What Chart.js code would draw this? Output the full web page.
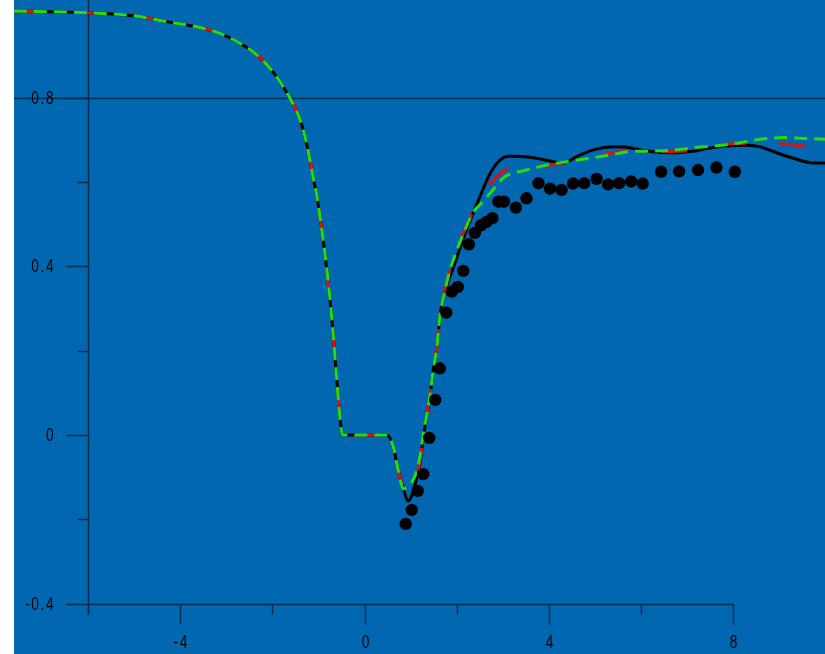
<!DOCTYPE html>
<html>
<head>
<meta charset="utf-8">
<script src="https://cdn.jsdelivr.net/npm/chart.js@4.4.1/dist/chart.umd.min.js"></script>
<style>
    html, body { margin: 0; padding: 0; background: #ffffff; }
    #wrap { position: absolute; left: 14px; top: 0; width: 811px; height: 654px; }
</style>
</head>
<body>
<div id="wrap"><canvas id="profileChart" width="811" height="654"></canvas></div>
<script>
// Part of the curve where all three computations coincide
const sharedX = [-7.61, -6.02, -5.03, -4.30, -3.57, -3.14, -2.71, -2.34, -2.05, -1.84, -1.62, -1.40, -1.26, -1.12, -1.03, -0.93, -0.82, -0.73, -0.64, -0.58, -0.54, -0.48, 0.48, 0.62, 0.73, 0.84];
const sharedY = [1.005, 1.001, 0.994, 0.980, 0.966, 0.952, 0.929, 0.901, 0.869, 0.838, 0.798, 0.747, 0.691, 0.612, 0.561, 0.486, 0.391, 0.296, 0.178, 0.095, 0.043, 0.0, 0.0, -0.028, -0.086, -0.128];

// Black solid line, after the split
const blackX = [0.94, 1.09, 1.20, 1.27, 1.35, 1.42, 1.48, 1.57, 1.63, 1.74, 1.92, 2.21, 2.50, 2.72, 2.94, 3.12, 3.37, 3.73, 4.09, 4.31, 4.60, 4.96, 5.39, 5.68, 5.97, 6.19, 6.69, 7.06, 7.49, 7.85, 8.29, 8.58, 8.86, 9.30, 9.73, 9.99];
const blackY = [-0.157, -0.119, -0.065, -0.007, 0.047, 0.095, 0.149, 0.213, 0.280, 0.339, 0.396, 0.486, 0.565, 0.620, 0.652, 0.661, 0.660, 0.656, 0.648, 0.645, 0.660, 0.676, 0.683, 0.682, 0.676, 0.672, 0.669, 0.672, 0.680, 0.685, 0.687, 0.683, 0.672, 0.656, 0.645, 0.645];

// Red dashed line, after the split
const redX = [0.95, 1.09, 1.20, 1.27, 1.35, 1.42, 1.48, 1.57, 1.63, 1.74, 1.85, 2.00, 2.14, 2.28, 2.50, 2.72, 2.94, 3.22, 3.59, 4.02, 4.67, 5.68, 6.04, 7.13, 7.35, 7.67, 8.14, 8.50, 9.12, 9.88, 9.99];
const redY = [-0.140, -0.112, -0.060, -0.005, 0.049, 0.097, 0.149, 0.213, 0.280, 0.342, 0.391, 0.438, 0.479, 0.514, 0.557, 0.595, 0.620, 0.635, 0.636, 0.640, 0.652, 0.672, 0.672, 0.674, 0.677, 0.687, 0.691, 0.693, 0.690, 0.680, 0.679];

// Green dashed line, after the split
const greenX = [0.95, 1.09, 1.20, 1.27, 1.35, 1.42, 1.48, 1.57, 1.63, 1.74, 1.85, 2.00, 2.14, 2.36, 2.54, 2.72, 3.04, 3.51, 3.95, 4.38, 4.89, 5.32, 5.76, 6.26, 6.77, 7.20, 7.67, 8.14, 8.58, 9.08, 9.51, 9.99];
const greenY = [-0.121, -0.097, -0.050, 0.000, 0.049, 0.097, 0.149, 0.213, 0.280, 0.342, 0.391, 0.438, 0.477, 0.529, 0.550, 0.573, 0.612, 0.628, 0.640, 0.648, 0.656, 0.664, 0.672, 0.673, 0.676, 0.682, 0.686, 0.693, 0.701, 0.705, 0.703, 0.701];

// Experimental points
const expX = [0.89, 1.02, 1.15, 1.27, 1.40, 1.53, 1.63, 1.77, 1.89, 2.02, 2.14, 2.26, 2.39, 2.52, 2.64, 2.77, 2.90, 3.02, 3.28, 3.51, 3.77, 4.02, 4.27, 4.52, 4.76, 5.03, 5.28, 5.52, 5.78, 6.03, 6.43, 6.82, 7.23, 7.63, 8.03];
const expY = [-0.211, -0.178, -0.133, -0.093, -0.007, 0.083, 0.158, 0.290, 0.340, 0.351, 0.389, 0.452, 0.479, 0.497, 0.505, 0.514, 0.553, 0.553, 0.539, 0.561, 0.597, 0.584, 0.581, 0.596, 0.597, 0.607, 0.594, 0.597, 0.601, 0.596, 0.624, 0.625, 0.628, 0.634, 0.624];

// Axis ticks
const xMajorTicks = [-4, 0, 4, 8];
const xTickLabels = ['-4', '0', '4', '8'];
const xMinorTicks = [-6, -2, 2, 6];
const yMajorTicks = [-0.4, 0, 0.4, 0.8];
const yTickLabels = ['-0.4', '0', '0.4', '0.8'];
const yMinorTicks = [-0.2, 0.2, 0.6];
const axisX = -6;      // where the vertical axis sits
const axisY = -0.4;    // where the horizontal axis sits
const xAxisEnd = 8;
const refLine = 0.8;   // horizontal line across the whole plot

function toPoints(xs, ys) {
    return xs.map((x, i) => ({ x: x, y: ys[i] }));
}

// draw narrow, spaced-out digits like the original plotting program
function drawNarrowText(ctx, text, x, y, align) {
    const sx = 0.72, gap = 1.6;
    ctx.save();
    ctx.font = '19px "Liberation Sans", Arial, sans-serif';
    ctx.fillStyle = '#000000';
    ctx.textBaseline = 'middle';
    ctx.textAlign = 'left';
    const widths = [...text].map(ch => ctx.measureText(ch).width * sx);
    const total = widths.reduce((a, b) => a + b, 0) + gap * (text.length - 1);
    let cx = x;
    if (align === 'right') cx = x - total;
    if (align === 'center') cx = x - total / 2;
    [...text].forEach((ch, i) => {
        ctx.save();
        ctx.translate(cx, y);
        ctx.scale(sx, 1);
        ctx.fillText(ch, 0, 0);
        ctx.restore();
        cx += widths[i] + gap;
    });
    ctx.restore();
}

const axesPlugin = {
    id: 'oldAxes',
    beforeDraw(chart) {
        const ctx = chart.ctx;
        ctx.save();
        ctx.fillStyle = '#0067b0';
        ctx.fillRect(0, 0, chart.width, chart.height);
        ctx.restore();
    },
    beforeDatasetsDraw(chart) {
        const ctx = chart.ctx;
        const xs = chart.scales.x, ys = chart.scales.y;
        const ax = Math.round(xs.getPixelForValue(axisX)) + 0.5;
        const ay = Math.round(ys.getPixelForValue(axisY)) + 0.5;
        const area = chart.chartArea;
        ctx.save();
        ctx.strokeStyle = '#0c2c4c';
        ctx.lineWidth = 1.5;

        // reference line
        const ry = Math.round(ys.getPixelForValue(refLine)) + 0.5;
        ctx.beginPath();
        ctx.moveTo(area.left, ry);
        ctx.lineTo(area.right, ry);
        ctx.stroke();

        // vertical axis
        ctx.beginPath();
        ctx.moveTo(ax, area.top);
        ctx.lineTo(ax, ay + 10);
        ctx.stroke();

        // horizontal axis
        ctx.beginPath();
        ctx.moveTo(ax, ay);
        ctx.lineTo(xs.getPixelForValue(xAxisEnd), ay);
        ctx.stroke();

        // x ticks
        xMajorTicks.forEach((v, i) => {
            const px = Math.round(xs.getPixelForValue(v)) + 0.5;
            ctx.beginPath();
            ctx.moveTo(px, ay);
            ctx.lineTo(px, ay + 20);
            ctx.stroke();
            drawNarrowText(ctx, xTickLabels[i], px, ay + 38, 'center');
        });
        xMinorTicks.forEach(v => {
            const px = Math.round(xs.getPixelForValue(v)) + 0.5;
            ctx.beginPath();
            ctx.moveTo(px, ay);
            ctx.lineTo(px, ay + 10);
            ctx.stroke();
        });

        // y ticks
        yMajorTicks.forEach((v, i) => {
            const py = Math.round(ys.getPixelForValue(v)) + 0.5;
            ctx.beginPath();
            ctx.moveTo(ax - 22, py);
            ctx.lineTo(ax, py);
            ctx.stroke();
            drawNarrowText(ctx, yTickLabels[i], ax - 35, py, 'right');
        });
        yMinorTicks.forEach(v => {
            const py = Math.round(ys.getPixelForValue(v)) + 0.5;
            ctx.beginPath();
            ctx.moveTo(ax - 11, py);
            ctx.lineTo(ax, py);
            ctx.stroke();
        });
        ctx.restore();
    }
};

const lineDefaults = {
    showLine: true,
    pointRadius: 0,
    borderWidth: 3,
    cubicInterpolationMode: 'monotone',
    fill: false
};

new Chart(document.getElementById('profileChart'), {
    type: 'scatter',
    data: {
        datasets: [
            {
                label: 'Experiment',
                data: toPoints(expX, expY),
                pointRadius: 6.2,
                pointBackgroundColor: '#000000',
                pointBorderWidth: 0,
                showLine: false,
                order: 0
            },
            Object.assign({}, lineDefaults, {
                label: 'Green',
                data: toPoints(sharedX.concat(greenX), sharedY.concat(greenY)),
                borderColor: '#22dd11',
                borderDash: [13, 7],
                order: 1
            }),
            Object.assign({}, lineDefaults, {
                label: 'Red',
                data: toPoints(sharedX.concat(redX), sharedY.concat(redY)),
                borderColor: '#dd1111',
                borderDash: [26, 34],
                order: 2
            }),
            Object.assign({}, lineDefaults, {
                label: 'Black',
                data: toPoints(sharedX.concat(blackX), sharedY.concat(blackY)),
                borderColor: '#000000',
                order: 3
            })
        ]
    },
    options: {
        responsive: false,
        devicePixelRatio: 1,
        animation: false,
        layout: { padding: 0, autoPadding: false },
        plugins: {
            legend: { display: false },
            tooltip: { enabled: false }
        },
        scales: {
            x: { type: 'linear', display: false, min: -7.607, max: 9.985 },
            y: { type: 'linear', display: false, min: -0.5196, max: 1.0313 }
        }
    },
    plugins: [axesPlugin]
});
</script>
</body>
</html>
